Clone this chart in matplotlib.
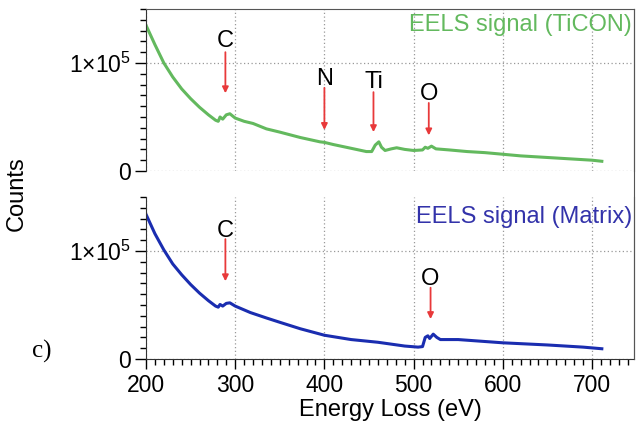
import numpy as np
import matplotlib
matplotlib.use('Agg')
import matplotlib.pyplot as plt
from matplotlib.ticker import MultipleLocator, FixedLocator
from matplotlib.lines import Line2D

plt.rcParams['font.family'] = ['Liberation Sans', 'DejaVu Sans']
plt.rcParams['mathtext.fontset'] = 'custom'
plt.rcParams['mathtext.rm'] = 'Liberation Sans'

# EELS spectra, counts in units of 1e5
ev_ticon = [200, 210, 220, 230, 240, 250, 260, 270, 278, 281, 283, 286, 290, 294,
            300, 310, 320, 335, 350, 373, 395, 400, 410, 430, 447, 453, 457, 461,
            464, 468, 475, 481, 490, 500, 510, 513, 516, 520, 525, 540, 560, 580,
            600, 620, 650, 680, 700, 711]
counts_ticon = [1.35, 1.17, 1.00, 0.87, 0.76, 0.67, 0.59, 0.52, 0.47, 0.46, 0.50, 0.48,
                0.52, 0.53, 0.49, 0.46, 0.44, 0.39, 0.36, 0.31, 0.27, 0.265, 0.245, 0.21,
                0.18, 0.18, 0.24, 0.27, 0.22, 0.19, 0.205, 0.215, 0.20, 0.19, 0.195, 0.22,
                0.21, 0.23, 0.205, 0.195, 0.18, 0.17, 0.155, 0.14, 0.125, 0.11, 0.10, 0.09]

ev_matrix = [200, 210, 220, 230, 240, 250, 260, 270, 278, 281, 283, 286, 290, 294,
             300, 317, 335, 350, 373, 400, 430, 460, 490, 505, 510, 513, 516, 518,
             522, 526, 530, 550, 575, 600, 650, 690, 711]
counts_matrix = [1.34, 1.16, 1.01, 0.88, 0.78, 0.69, 0.61, 0.54, 0.49, 0.48, 0.505, 0.49,
                 0.515, 0.52, 0.49, 0.43, 0.38, 0.34, 0.28, 0.22, 0.18, 0.155, 0.12, 0.11,
                 0.115, 0.20, 0.215, 0.19, 0.23, 0.20, 0.18, 0.18, 0.165, 0.15, 0.13,
                 0.11, 0.095]

# edge markers: (label, energy, arrow start, arrow end, label baseline) in 1e5 counts
edges_ticon = [('C', 289, 1.10, 0.72, 1.15), ('N', 400, 0.77, 0.38, 0.80),
               ('Ti', 455, 0.73, 0.36, 0.77), ('O', 517, 0.63, 0.33, 0.66)]
edges_matrix = [('C', 289, 1.11, 0.72, 1.13), ('O', 519, 0.66, 0.37, 0.685)]

green = '#63b95e'
blue = '#1a2db0'
red = '#e8393a'
frame = '#555555'
fs = 17

fig = plt.figure(figsize=(6.37, 4.34), dpi=100)
ax1 = fig.add_axes([0.2292, 0.606, 0.766, 0.3733])
ax2 = fig.add_axes([0.2292, 0.1728, 0.766, 0.3733])


def style(ax, bottom_axis):
    ax.set_xlim(200, 747)
    ax.set_ylim(0, 1.5e5)
    ax.yaxis.set_major_locator(FixedLocator([0, 1e5]))
    ax.yaxis.set_minor_locator(MultipleLocator(1e4))
    ax.set_yticklabels(['0', r'1$\times$10$^5$'])
    ax.xaxis.set_major_locator(MultipleLocator(100))
    ax.xaxis.set_minor_locator(MultipleLocator(10))
    ax.grid(True, which='major', color='#999999', linestyle=(0, (1, 2)), lw=0.9)
    ax.tick_params(axis='y', which='major', length=8, width=1, labelsize=16.5, pad=3)
    ax.tick_params(axis='y', which='minor', length=4, width=1)
    for s in ['left', 'right', 'top', 'bottom']:
        ax.spines[s].set_color(frame)
    ax.spines['left'].set_color('#333333')
    if bottom_axis:
        ax.spines['top'].set_visible(False)
        ax.tick_params(axis='x', which='major', length=7, width=1, labelsize=16.5, pad=4)
        ax.tick_params(axis='x', which='minor', length=4, width=1)
        ax.spines['bottom'].set_color('#333333')
    else:
        ax.spines['bottom'].set_visible(False)
        ax.tick_params(axis='x', which='both', bottom=False, labelbottom=False)


style(ax1, False)
style(ax2, True)

ax1.plot(ev_ticon, np.array(counts_ticon) * 1e5, color=green, lw=2.2)
ax2.plot(ev_matrix, np.array(counts_matrix) * 1e5, color=blue, lw=2.2)

for ax, edges in [(ax1, edges_ticon), (ax2, edges_matrix)]:
    for name, x, y0, y1, yt in edges:
        ax.annotate('', xy=(x, y1 * 1e5), xytext=(x, y0 * 1e5),
                    arrowprops=dict(arrowstyle='-|>', color=red, lw=1.3,
                                    mutation_scale=9, shrinkA=0, shrinkB=0))
        ax.text(x, yt * 1e5, name, ha='center', va='baseline', fontsize=fs)

ax1.text(0.996, 0.90, 'EELS signal (TiCON)', transform=ax1.transAxes,
         ha='right', va='center', fontsize=fs, color=green)
ax2.text(0.996, 0.877, 'EELS signal (Matrix)', transform=ax2.transAxes,
         ha='right', va='center', fontsize=fs, color='#3333aa')

ax2.set_xlabel('Energy Loss (eV)', fontsize=fs, labelpad=1)
fig.text(0.026, 0.553, 'Counts', rotation=90, ha='center', va='center', fontsize=fs)
fig.text(0.066, 0.19, 'c)', family=['Liberation Serif'], fontsize=18, ha='center', va='center')

# right edge of the frame runs through the gap between panels
fig.add_artist(Line2D([0.9953, 0.9953], [0.1728, 0.9793], transform=fig.transFigure,
                      color=frame, lw=0.8))

fig.savefig('out.png', dpi=100)
